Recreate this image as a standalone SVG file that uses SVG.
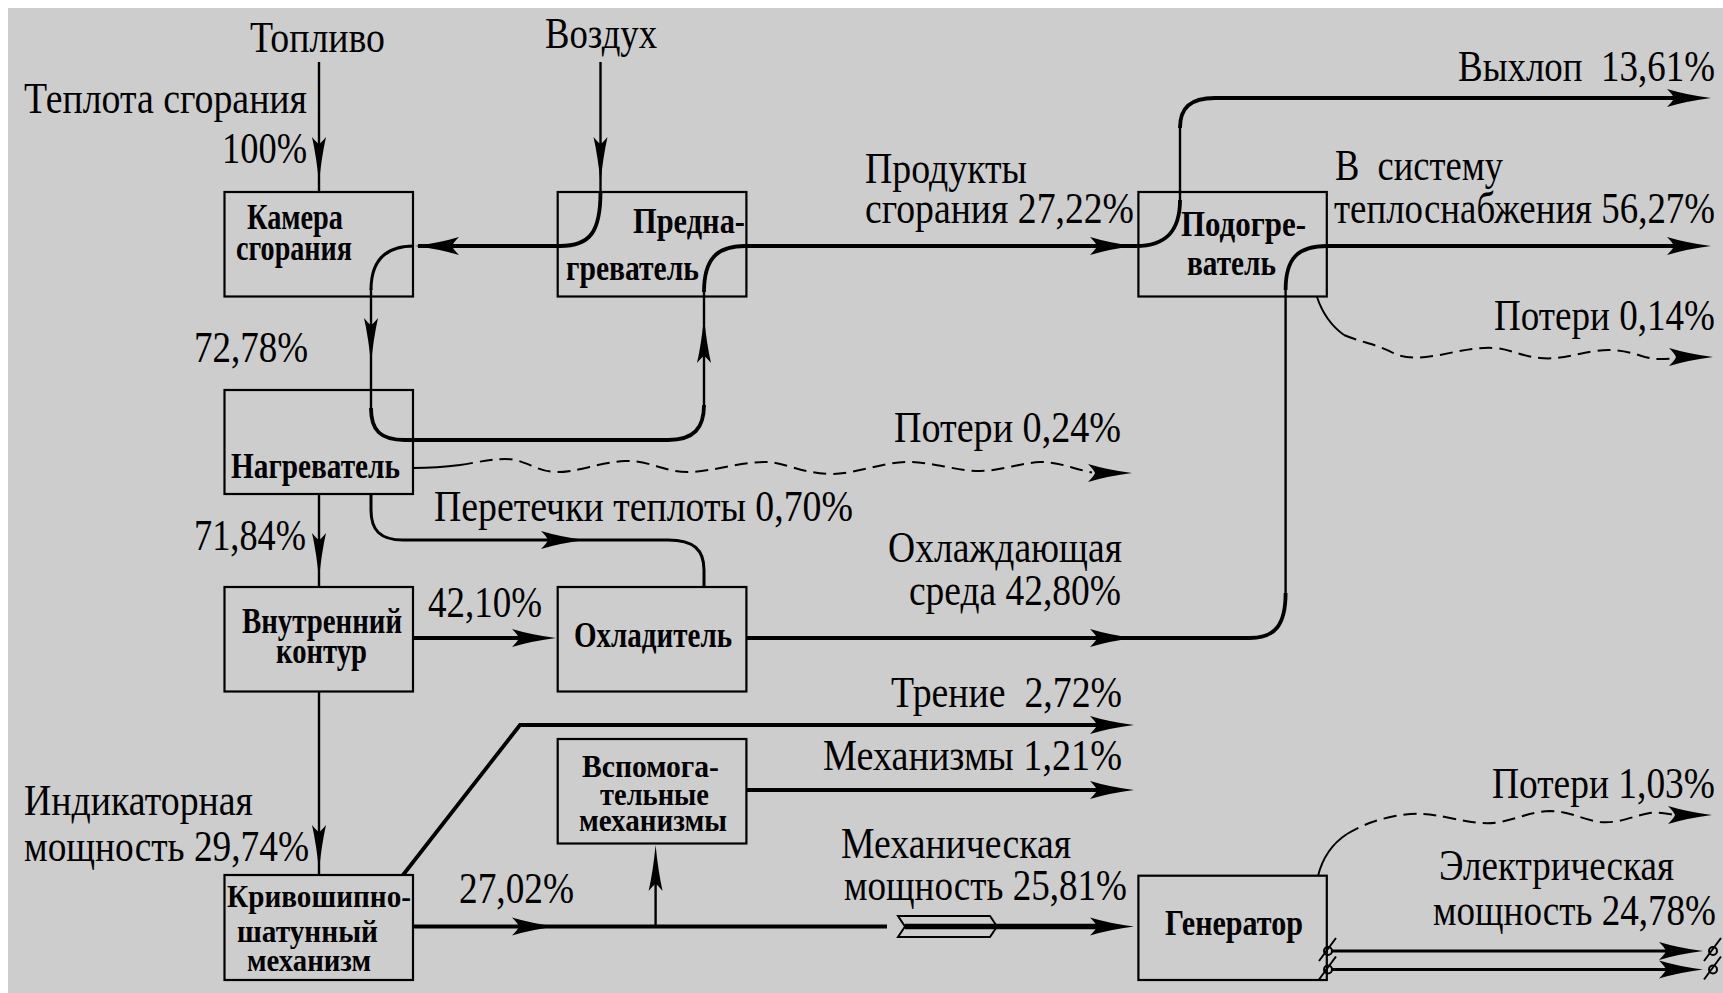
<svg xmlns="http://www.w3.org/2000/svg" xmlns:xlink="http://www.w3.org/1999/xlink" width="1723" height="993" viewBox="0 0 1723 993">
<style>
.bg{fill:#cdcdcd}
.box{fill:none;stroke:#000;stroke-width:2.2}
.lbl{font-family:"Liberation Serif","Times New Roman",serif;font-size:44px;fill:#000}
.bl{font-family:"Liberation Serif","Times New Roman",serif;font-size:35px;font-weight:bold;fill:#000}
.bs{font-family:"Liberation Serif","Times New Roman",serif;font-size:31px;font-weight:bold;fill:#000}
.thin{fill:none;stroke:#000;stroke-width:2.4}
.thick{fill:none;stroke:#000;stroke-width:3.8}
.mid{fill:none;stroke:#000;stroke-width:3}
.dash{fill:none;stroke:#000;stroke-width:2;stroke-dasharray:13 7}
.wsol{fill:none;stroke:#000;stroke-width:2}
.term{fill:#cdcdcd;stroke:#000;stroke-width:2}
</style>
<defs>
<path id="ah" d="M0,0 Q-24,-3 -44,-9 Q-38,-3 -37,0 Q-38,3 -44,9 Q-24,3 0,0Z" fill="#000"/>
<path id="av" d="M0,0 Q-26,-2.5 -46,-7 Q-40,-2 -39,0 Q-40,2 -46,7 Q-26,2.5 0,0Z" fill="#000"/>
</defs>
<rect class="bg" x="8" y="8" width="1715" height="985"/>

<g id="connectors">
<!-- fuel -->
<path class="thin" d="M319,62 V192"/>
<use xlink:href="#av" transform="translate(319,183) rotate(90)"/>
<!-- air -->
<path class="thin" d="M600.5,62 V194"/>
<use xlink:href="#av" transform="translate(600.5,183) rotate(90)"/>
<path class="thick" d="M600.5,192 C600.5,232 590,246 560,246 H418"/>
<use xlink:href="#ah" transform="translate(415,246) rotate(180)"/>
<!-- combustion chamber -> heater -> preheater -> heater2 -> exhaust -->
<path class="mid" d="M414,246 C388,246 371,258 371,290"/>
<path class="thin" d="M371,288 V412"/>
<use xlink:href="#av" transform="translate(371,364) rotate(90)"/>
<path class="thick" d="M371,408 C371,430 380,440 405,440 H668 C694,440 704,428 704,405"/>
<path class="thin" d="M704,408 V288"/>
<use xlink:href="#av" transform="translate(704,317) rotate(-90)"/>
<path class="thick" d="M704,292 C704,260 716,246 745,246 H1138"/>
<use xlink:href="#ah" transform="translate(1134,246)"/>
<path class="thick" d="M1136,246 C1165,246 1180,232 1180,200"/>
<path class="thin" d="M1180,205 V125"/>
<path class="thick" d="M1180,128 C1180,108 1190,98 1215,98 H1690"/>
<use xlink:href="#ah" transform="translate(1711,98)"/>
<!-- heater -> inner circuit -->
<path class="thin" d="M319,494 V587"/>
<use xlink:href="#av" transform="translate(319,579) rotate(90)"/>
<!-- heat leakage -->
<path class="mid" d="M371,494 V510 C371,530 380,540 403,540 H668 C694,540 704,550 704,570 V587"/>
<use xlink:href="#ah" transform="translate(585,540)"/>
<!-- inner -> cooler -->
<path class="thick" d="M413,638 H540"/>
<use xlink:href="#ah" transform="translate(556,638)"/>
<!-- cooler -> heater2 -> heating -->
<path class="thick" d="M746,638 H1250 C1275,638 1285.6,625 1285.6,593"/>
<use xlink:href="#ah" transform="translate(1134,638)"/>
<path class="thin" d="M1285.6,598 V285"/>
<path class="thick" d="M1285.6,290 C1285.6,258 1298,246 1327,246 H1690"/>
<use xlink:href="#ah" transform="translate(1711,246)"/>
<!-- losses heater -->
<path class="wsol" d="M413,468 C430,468 445,467 460,465"/>
<path class="dash" d="M460,465 C480,462 490,459 505,459 C525,459 535,471 555,472 C575,473 600,462 625,461 C650,460 665,473 690,472 C715,471 740,462 765,462 C785,462 800,473 830,474 C855,474 880,463 905,462 C930,461 955,471 980,471 C1000,471 1020,463 1040,462 C1060,462 1070,468 1092,472.5"/>
<use xlink:href="#ah" transform="translate(1132,473)"/>
<!-- losses heater2 -->
<path class="wsol" d="M1317,297 C1322,312 1330,325 1344,335"/>
<path class="dash" d="M1344,335 C1360,342 1380,345 1395,354 C1410,360 1425,357 1440,355 C1460,351 1475,347 1495,348 C1510,349 1520,356 1540,358 C1560,360 1575,354 1595,351 C1615,348 1630,352 1645,357 C1655,360 1665,359 1678,358"/>
<use xlink:href="#ah" transform="translate(1713,357)"/>
<!-- inner -> crank -->
<path class="thin" d="M319,692 V875"/>
<use xlink:href="#av" transform="translate(319,871) rotate(90)"/>
<!-- friction -->
<path class="thick" d="M403,875 L520,725 H1100"/>
<use xlink:href="#ah" transform="translate(1134,725)"/>
<!-- crank -> shaft -->
<path class="thick" d="M413,926.5 H887"/>
<use xlink:href="#ah" transform="translate(556,926.5)"/>
<path class="thin" d="M655.6,926.5 V860"/>
<use xlink:href="#av" transform="translate(655.6,845) rotate(-90)"/>
<polygon points="898,916 990,916 997,926.5 990,937 898,937 905,926.5" fill="none" stroke="#000" stroke-width="2"/>
<path d="M905,926.5 H1100" stroke="#000" stroke-width="5.5" fill="none"/>
<use xlink:href="#ah" transform="translate(1134,926.5)"/>
<!-- aux -> mechanisms -->
<path class="thick" d="M746,790 H1100"/>
<use xlink:href="#ah" transform="translate(1134,790)"/>
<!-- generator losses -->
<path class="wsol" d="M1318,876 C1322,860 1330,845 1347,834"/>
<path class="dash" d="M1347,834 C1360,826 1375,820 1395,816 C1420,812 1430,814 1450,818 C1470,822 1485,825 1500,822 C1520,818 1530,812 1550,811 C1570,811 1580,819 1600,822 C1620,824 1635,815 1650,813 C1660,812 1668,814 1675,815"/>
<use xlink:href="#ah" transform="translate(1712,815)"/>
<!-- electric output -->
<path class="mid" d="M1328,951 H1680 M1328,969.5 H1680"/>
<use xlink:href="#ah" transform="translate(1703,951)"/>
<use xlink:href="#ah" transform="translate(1703,969.5)"/>
<circle class="term" cx="1328" cy="951" r="4"/>
<circle class="term" cx="1328" cy="969.5" r="4"/>
<circle class="term" cx="1713" cy="951" r="4"/>
<circle class="term" cx="1713" cy="969.5" r="4"/>
<path class="wsol" d="M1319,961 L1336,938 M1319,979.5 L1336,956.5 M1704,961 L1721,938 M1704,979.5 L1721,956.5"/>
</g>

<g id="n-kamera">
<rect class="box" x="224.5" y="192" width="188.5" height="104.5"/>
<text class="bl" x="247" y="229" textLength="96" lengthAdjust="spacingAndGlyphs">Камера</text>
<text class="bl" x="236" y="260" textLength="116" lengthAdjust="spacingAndGlyphs">сгорания</text>
</g>
<g id="n-predna">
<rect class="box" x="557.7" y="192" width="188.7" height="104.5"/>
<text class="bl" x="633" y="233" textLength="112" lengthAdjust="spacingAndGlyphs">Предна-</text>
<text class="bl" x="566" y="280" textLength="133" lengthAdjust="spacingAndGlyphs">греватель</text>
</g>
<g id="n-podogre">
<rect class="box" x="1138.4" y="192" width="188.4" height="104.5"/>
<text class="bl" x="1181" y="236" textLength="125" lengthAdjust="spacingAndGlyphs">Подогре-</text>
<text class="bl" x="1187" y="275" textLength="89" lengthAdjust="spacingAndGlyphs">ватель</text>
</g>
<g id="n-nagrev">
<rect class="box" x="224.5" y="390" width="188.5" height="104"/>
<text class="bl" x="231" y="478" textLength="169" lengthAdjust="spacingAndGlyphs">Нагреватель</text>
</g>
<g id="n-vnutr">
<rect class="box" x="224.5" y="587" width="188.5" height="104.5"/>
<text class="bl" x="242" y="633" textLength="160" lengthAdjust="spacingAndGlyphs">Внутренний</text>
<text class="bl" x="276" y="663" textLength="91" lengthAdjust="spacingAndGlyphs">контур</text>
</g>
<g id="n-ohlad">
<rect class="box" x="557.7" y="587" width="188.7" height="104.5"/>
<text class="bl" x="574" y="647" textLength="158" lengthAdjust="spacingAndGlyphs">Охладитель</text>
</g>
<g id="n-vspom">
<rect class="box" x="557.7" y="739" width="188.7" height="104.5"/>
<text class="bs" x="582" y="777" textLength="137" lengthAdjust="spacingAndGlyphs">Вспомога-</text>
<text class="bs" x="600" y="805" textLength="109" lengthAdjust="spacingAndGlyphs">тельные</text>
<text class="bs" x="579" y="831" textLength="148" lengthAdjust="spacingAndGlyphs">механизмы</text>
</g>
<g id="n-kshm">
<rect class="box" x="224.5" y="875" width="188.5" height="105"/>
<text class="bs" x="227" y="907" textLength="184" lengthAdjust="spacingAndGlyphs">Кривошипно-</text>
<text class="bs" x="237" y="942" textLength="141" lengthAdjust="spacingAndGlyphs">шатунный</text>
<text class="bs" x="247" y="971" textLength="124" lengthAdjust="spacingAndGlyphs">механизм</text>
</g>
<g id="n-gen">
<rect class="box" x="1138.4" y="875.7" width="188.4" height="104.3"/>
<text class="bl" x="1165" y="935" textLength="138" lengthAdjust="spacingAndGlyphs">Генератор</text>
</g>

<g id="labels">
<text class="lbl" x="250" y="52" textLength="135" lengthAdjust="spacingAndGlyphs">Топливо</text>
<text class="lbl" x="545" y="48" textLength="112" lengthAdjust="spacingAndGlyphs">Воздух</text>
<text class="lbl" x="24" y="113" textLength="283" lengthAdjust="spacingAndGlyphs">Теплота сгорания</text>
<text class="lbl" x="222" y="163" textLength="85" lengthAdjust="spacingAndGlyphs">100%</text>
<text class="lbl" x="865" y="183" textLength="162" lengthAdjust="spacingAndGlyphs">Продукты</text>
<text class="lbl" x="865" y="223" textLength="269" lengthAdjust="spacingAndGlyphs">сгорания 27,22%</text>
<text class="lbl" x="1458" y="81" textLength="257" lengthAdjust="spacingAndGlyphs" xml:space="preserve">Выхлоп  13,61%</text>
<text class="lbl" x="1335" y="180" textLength="168" lengthAdjust="spacingAndGlyphs" xml:space="preserve">В  систему</text>
<text class="lbl" x="1334" y="223" textLength="381" lengthAdjust="spacingAndGlyphs">теплоснабжения 56,27%</text>
<text class="lbl" x="1494" y="330" textLength="221" lengthAdjust="spacingAndGlyphs">Потери 0,14%</text>
<text class="lbl" x="194" y="362" textLength="114" lengthAdjust="spacingAndGlyphs">72,78%</text>
<text class="lbl" x="894" y="442" textLength="227" lengthAdjust="spacingAndGlyphs">Потери 0,24%</text>
<text class="lbl" x="434" y="521" textLength="419" lengthAdjust="spacingAndGlyphs">Перетечки теплоты 0,70%</text>
<text class="lbl" x="194" y="550" textLength="112" lengthAdjust="spacingAndGlyphs">71,84%</text>
<text class="lbl" x="888" y="562" textLength="234" lengthAdjust="spacingAndGlyphs">Охлаждающая</text>
<text class="lbl" x="909" y="605" textLength="212" lengthAdjust="spacingAndGlyphs">среда 42,80%</text>
<text class="lbl" x="428" y="617" textLength="114" lengthAdjust="spacingAndGlyphs">42,10%</text>
<text class="lbl" x="891" y="707" textLength="231" lengthAdjust="spacingAndGlyphs" xml:space="preserve">Трение  2,72%</text>
<text class="lbl" x="823" y="770" textLength="299" lengthAdjust="spacingAndGlyphs">Механизмы 1,21%</text>
<text class="lbl" x="1492" y="798" textLength="223" lengthAdjust="spacingAndGlyphs">Потери 1,03%</text>
<text class="lbl" x="841" y="858" textLength="230" lengthAdjust="spacingAndGlyphs">Механическая</text>
<text class="lbl" x="844" y="900" textLength="283" lengthAdjust="spacingAndGlyphs">мощность 25,81%</text>
<text class="lbl" x="1439" y="880" textLength="235" lengthAdjust="spacingAndGlyphs">Электрическая</text>
<text class="lbl" x="1433" y="925" textLength="283" lengthAdjust="spacingAndGlyphs">мощность 24,78%</text>
<text class="lbl" x="24" y="815" textLength="229" lengthAdjust="spacingAndGlyphs">Индикаторная</text>
<text class="lbl" x="24" y="861" textLength="285" lengthAdjust="spacingAndGlyphs">мощность 29,74%</text>
<text class="lbl" x="459" y="903" textLength="115" lengthAdjust="spacingAndGlyphs">27,02%</text>
</g>
</svg>
